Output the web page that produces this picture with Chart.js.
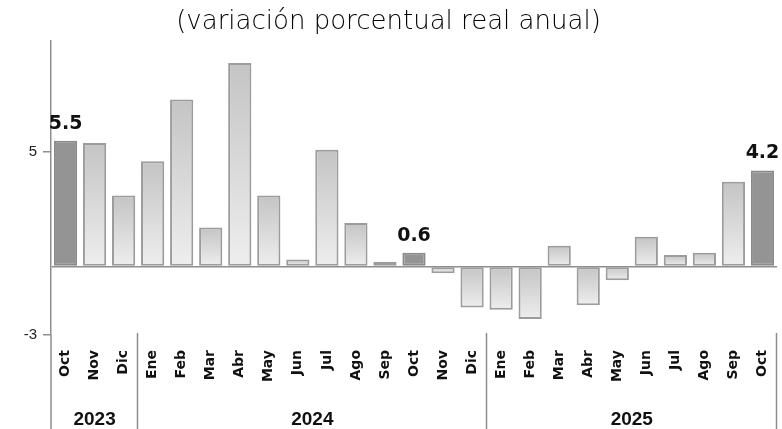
<!DOCTYPE html>
<html><head><meta charset="utf-8">
<script src="https://cdn.jsdelivr.net/npm/chart.js@4.4.1/dist/chart.umd.min.js"></script>
<style>html,body{margin:0;padding:0;background:#fff}#wrap{width:782px;height:429px;position:relative}</style>
</head><body><div id="wrap"><canvas id="c" width="782" height="429"></canvas></div>
<script>
const months = ['Oct','Nov','Dic','Ene','Feb','Mar','Abr','May','Jun','Jul','Ago','Sep','Oct','Nov','Dic','Ene','Feb','Mar','Abr','May','Jun','Jul','Ago','Sep','Oct'];
const values = [5.5,5.4,3.1,4.6,7.3,1.7,8.9,3.1,0.3,5.1,1.9,0.2,0.6,-0.3,-1.8,-1.9,-2.3,0.9,-1.7,-0.6,1.3,0.5,0.6,3.7,4.2];
const highlighted = [0,12,24];
const yearLabels = ['2023','2024','2025'];
const yearStart = [0,3,15];
const yearEnd = [2,14,24];
const yTicks = [-3,0,5];
const titleText = '(variación porcentual real anual)';

const LINE = '#8e8e8e';

const groupPlugin = {
  id:'groups',
  afterDraw(chart){
    const {ctx, chartArea, scales:{x}} = chart;
    const H = chart.height;
    const half = (x.getPixelForValue(1) - x.getPixelForValue(0)) / 2;
    ctx.save();
    ctx.strokeStyle = LINE; ctx.lineWidth = 1.5;
    ctx.beginPath();
    ctx.moveTo(chartArea.left, chartArea.bottom); ctx.lineTo(chartArea.left, H);
    for (let i = 0; i < yearEnd.length; i++) {
      const xp = Math.round(x.getPixelForValue(yearEnd[i]) + half) - 0.5;
      ctx.moveTo(xp, chartArea.bottom - 2); ctx.lineTo(xp, H);
    }
    ctx.stroke();
    ctx.fillStyle = '#111';
    ctx.font = 'bold 19px "Liberation Sans"';
    ctx.textAlign = 'center'; ctx.textBaseline = 'middle';
    for (let i = 0; i < yearLabels.length; i++) {
      const xs = x.getPixelForValue(yearStart[i]) - half;
      const xe = x.getPixelForValue(yearEnd[i]) + half;
      ctx.fillText(yearLabels[i], (xs + xe) / 2, 420);
    }
    ctx.restore();
  }
};

const valueLabelPlugin = {
  id:'valueLabels',
  afterDatasetsDraw(chart){
    const {ctx} = chart;
    const meta = chart.getDatasetMeta(0);
    ctx.save();
    ctx.fillStyle = '#111';
    ctx.font = 'bold 19px "DejaVu Sans"';
    ctx.textAlign = 'center'; ctx.textBaseline = 'alphabetic';
    highlighted.forEach(i => {
      const el = meta.data[i];
      ctx.fillText(values[i].toFixed(1), el.x, el.y - 12);
    });
    ctx.restore();
  }
};

function barFill(c) {
  if (highlighted.includes(c.dataIndex)) return '#949494';
  const chart = c.chart;
  const {ctx, chartArea, scales} = chart;
  if (!chartArea || !scales.y) return '#dcdcdc';
  const y0 = scales.y.getPixelForValue(0);
  const y1 = scales.y.getPixelForValue(c.raw);
  const top = Math.min(y0, y1), bot = Math.max(y0, y1);
  if (!isFinite(top) || !isFinite(bot) || bot - top < 1) return '#d0d0d0';
  const g = ctx.createLinearGradient(0, top, 0, bot);
  g.addColorStop(0, '#c4c4c4');
  g.addColorStop(1, '#eeeeee');
  return g;
}

new Chart(document.getElementById('c'), {
  type:'bar',
  data:{
    labels: months,
    datasets:[{
      data: values,
      backgroundColor: barFill,
      borderColor: c => highlighted.includes(c.dataIndex) ? '#8a8a8a' : '#9c9c9c',
      borderWidth: 2,
      borderSkipped: false,
      barPercentage: 0.8,
      categoryPercentage: 1.0
    }]
  },
  options:{
    responsive:false,
    devicePixelRatio:1,
    animation:false,
    layout:{padding:{left:0,right:5,top:0,bottom:0}},
    plugins:{
      legend:{display:false},
      tooltip:{enabled:false},
      title:{
        display:true,
        text:titleText,
        color:'#000',
        font:{family:'DejaVu Sans', weight:'200', size:26},
        padding:{top:7,bottom:3}
      }
    },
    scales:{
      x:{
        afterFit: s => { s.height = 94; s.paddingLeft = 0; s.paddingRight = 0; },
        border:{display:false},
        grid:{display:false, drawTicks:false},
        ticks:{
          minRotation:90, maxRotation:90, autoSkip:false, padding:15,
          font:{family:'DejaVu Sans', weight:'bold', size:14},
          color:'#111'
        }
      },
      y:{
        min:-3, max:9.85,
        afterBuildTicks: s => { s.ticks = yTicks.map(v => ({value:v})); },
        afterFit: s => { s.width = 51; },
        border:{display:true, color:LINE, width:1.5},
        grid:{
          drawOnChartArea:true,
          color: c => (c.tick && c.tick.value === 0) ? LINE : 'rgba(0,0,0,0)',
          tickColor: c => (c.tick && c.tick.value === 0) ? 'rgba(0,0,0,0)' : LINE,
          lineWidth:1.5,
          tickLength:8
        },
        ticks:{
          callback: v => v === 0 ? '' : String(v),
          font:{family:'Liberation Sans', size:15},
          color:'#222',
          padding:6
        }
      }
    }
  },
  plugins:[groupPlugin, valueLabelPlugin]
});
</script>
</body></html>
